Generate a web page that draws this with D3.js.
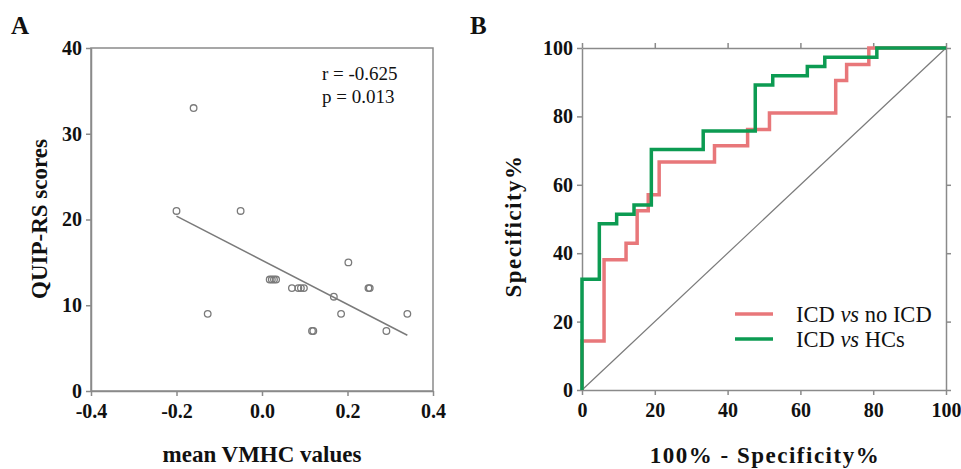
<!DOCTYPE html>
<html>
<head>
<meta charset="utf-8">
<script src="https://cdn.jsdelivr.net/npm/d3@7"></script>
<style>
  body { margin: 0; background: #fff; }
  text { font-family: "Liberation Serif", "Times New Roman", serif; }
</style>
</head>
<body>
<div id="chart"></div>
<script>
// Panel A: scatter of QUIP-RS scores against mean VMHC values
const vmhc = [-0.2, -0.16, -0.05, -0.127, 0.018, 0.023, 0.028, 0.033,
              0.07, 0.085, 0.091, 0.098, 0.168, 0.185, 0.202, 0.249, 0.252,
              0.117, 0.12, 0.291, 0.34];
const quip = [21, 33, 21, 9, 13, 13, 13, 13,
              12, 12, 12, 12, 11, 9, 15, 12, 12,
              7, 7, 7, 9];
const fitX = [-0.2, 0.34];
const fitY = [20.4, 6.5];
const xTicksA = [-0.4, -0.2, 0, 0.2, 0.4];
const yTicksA = [0, 10, 20, 30, 40];

// Panel B: ROC curves (x = 100% - specificity, y = sensitivity)
const noIcdX = [0, 0, 6.06, 12.1, 15.15, 18.2, 21.2, 36.4, 45.5, 51.5, 69.7, 72.7, 78.8, 100];
const noIcdY = [0, 14.3, 38.1, 42.9, 52.4, 57.1, 66.7, 71.4, 76.2, 81.0, 90.5, 95.2, 100, 100];
const hcX = [0, 0, 4.76, 9.52, 14.29, 19.05, 33.3, 47.6, 52.4, 61.9, 66.7, 81.0, 100];
const hcY = [0, 32.4, 48.6, 51.4, 54.1, 70.3, 75.7, 89.2, 91.9, 94.6, 97.3, 100, 100];
const ticksB = [0, 20, 40, 60, 80, 100];

const width = 961;
const height = 469;
const axisColor = "#8a8a8a";
const red = "#e8777a";
const green = "#0c9b52";

const svg = d3.select("#chart").append("svg")
    .attr("width", width)
    .attr("height", height);

// style an axis group: gray lines, bold serif labels
function styleAxis(g, size) {
  g.select(".domain").attr("stroke", axisColor).attr("stroke-width", 1.5);
  g.selectAll(".tick line").attr("stroke", axisColor).attr("stroke-width", 1.5);
  g.selectAll(".tick text")
      .attr("fill", "#111")
      .attr("font-family", "Liberation Serif, Times New Roman, serif")
      .attr("font-weight", "bold")
      .attr("font-size", size);
}

// ---------- Panel A ----------
const xA = d3.scaleLinear().domain([-0.4, 0.4]).range([91, 433]);
const yA = d3.scaleLinear().domain([0, 40]).range([391, 48]);

// box
svg.append("rect")
    .attr("x", xA(-0.4)).attr("y", yA(40))
    .attr("width", xA(0.4) - xA(-0.4)).attr("height", yA(0) - yA(40))
    .attr("fill", "none").attr("stroke", axisColor).attr("stroke-width", 1.5);

svg.append("g")
    .attr("transform", `translate(0,${yA(0)})`)
    .call(d3.axisBottom(xA).tickValues(xTicksA).tickFormat(d => d.toFixed(1))
      .tickSize(5).tickSizeOuter(0).tickPadding(8))
    .call(g => styleAxis(g, 20));

svg.append("g")
    .attr("transform", `translate(${xA(-0.4)},0)`)
    .call(d3.axisLeft(yA).tickValues(yTicksA).tickSize(5).tickSizeOuter(0).tickPadding(4))
    .call(g => styleAxis(g, 20));

// regression line
svg.append("line")
    .attr("x1", xA(fitX[0])).attr("y1", yA(fitY[0]))
    .attr("x2", xA(fitX[1])).attr("y2", yA(fitY[1]))
    .attr("stroke", "#7a7a7a").attr("stroke-width", 1.5);

svg.append("g")
  .selectAll("circle")
  .data(vmhc.map((v, i) => [v, quip[i]]))
  .enter().append("circle")
    .attr("cx", d => xA(d[0]))
    .attr("cy", d => yA(d[1]))
    .attr("r", 3.3)
    .attr("fill", "none")
    .attr("stroke", "#7a7a7a")
    .attr("stroke-width", 1.3);

svg.append("text").attr("x", 322).attr("y", 80)
    .attr("font-size", 19).attr("fill", "#111").text("r = -0.625");
svg.append("text").attr("x", 322).attr("y", 103)
    .attr("font-size", 19).attr("fill", "#111").text("p = 0.013");

svg.append("text").attr("x", 262).attr("y", 462)
    .attr("text-anchor", "middle").attr("font-size", 23).attr("font-weight", "bold")
    .attr("fill", "#111").text("mean VMHC values");
svg.append("text")
    .attr("transform", "translate(47,219) rotate(-90)")
    .attr("text-anchor", "middle").attr("font-size", 23).attr("font-weight", "bold")
    .attr("fill", "#111").text("QUIP-RS scores");

svg.append("text").attr("x", 11).attr("y", 34)
    .attr("font-size", 25).attr("font-weight", "bold").attr("fill", "#111").text("A");

// ---------- Panel B ----------
const xB = d3.scaleLinear().domain([0, 100]).range([582, 946]);
const yB = d3.scaleLinear().domain([0, 100]).range([390, 48]);

svg.append("g")
    .attr("transform", `translate(0,${yB(0)})`)
    .call(d3.axisBottom(xB).tickValues(ticksB).tickSize(5).tickSizeOuter(0).tickPadding(8))
    .call(g => styleAxis(g, 20));
svg.append("g")
    .attr("transform", `translate(${xB(0)},0)`)
    .call(d3.axisLeft(yB).tickValues(ticksB).tickSize(5).tickSizeOuter(0).tickPadding(4))
    .call(g => styleAxis(g, 20));
svg.append("g")
    .attr("transform", `translate(0,${yB(100)})`)
    .call(d3.axisTop(xB).tickValues(ticksB).tickSize(5).tickSizeOuter(0).tickFormat(""))
    .call(g => styleAxis(g, 20));
svg.append("g")
    .attr("transform", `translate(${xB(100)},0)`)
    .call(d3.axisRight(yB).tickValues(ticksB).tickSize(5).tickSizeOuter(0).tickFormat(""))
    .call(g => styleAxis(g, 20));

// reference diagonal
svg.append("line")
    .attr("x1", xB(0)).attr("y1", yB(0))
    .attr("x2", xB(100)).attr("y2", yB(100))
    .attr("stroke", "#7a7a7a").attr("stroke-width", 1.2);

const step = d3.line()
    .x(d => xB(d[0]))
    .y(d => yB(d[1]))
    .curve(d3.curveStepAfter);

svg.append("path")
    .datum(noIcdX.map((v, i) => [v, noIcdY[i]]))
    .attr("d", step)
    .attr("fill", "none").attr("stroke", red).attr("stroke-width", 3.5);
svg.append("path")
    .datum(hcX.map((v, i) => [v, hcY[i]]))
    .attr("d", step)
    .attr("fill", "none").attr("stroke", green).attr("stroke-width", 3.5);

// legend
const legend = [
  { color: red, rest: " no ICD", y: 314 },
  { color: green, rest: " HCs", y: 339 }
];
legend.forEach(d => {
  svg.append("line")
      .attr("x1", 735).attr("x2", 773).attr("y1", d.y).attr("y2", d.y)
      .attr("stroke", d.color).attr("stroke-width", 3.5);
  const t = svg.append("text").attr("x", 796).attr("y", d.y + 7.5)
      .attr("font-size", 22.5).attr("fill", "#111");
  t.append("tspan").text("ICD ");
  t.append("tspan").attr("font-style", "italic").text("vs");
  t.append("tspan").text(d.rest);
});

svg.append("text").attr("x", 765).attr("y", 463)
    .attr("text-anchor", "middle").attr("font-size", 23).attr("font-weight", "bold")
    .attr("letter-spacing", 1.5)
    .attr("fill", "#111").text("100% - Specificity%");
svg.append("text")
    .attr("transform", "translate(521,226) rotate(-90)")
    .attr("text-anchor", "middle").attr("font-size", 23).attr("font-weight", "bold")
    .attr("letter-spacing", 1.5)
    .attr("fill", "#111").text("Specificity%");

svg.append("text").attr("x", 470).attr("y", 34)
    .attr("font-size", 25).attr("font-weight", "bold").attr("fill", "#111").text("B");
</script>
</body>
</html>
